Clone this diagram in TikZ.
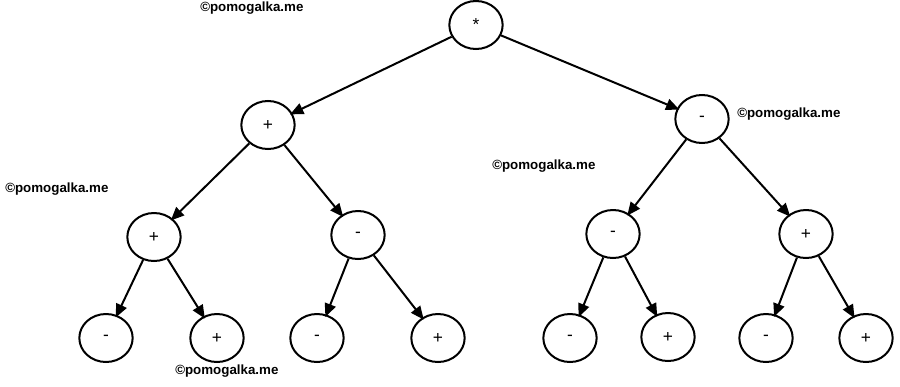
\documentclass[tikz,border=0pt]{standalone}
\usepackage{fontspec}
\setmainfont{Liberation Sans}
\usetikzlibrary{arrows.meta,shapes.geometric}

\begin{document}
\begin{tikzpicture}[x=0.75pt,y=-0.75pt,
  op/.style={draw, ellipse, line width=1.5pt, inner sep=0pt,
    minimum width=40pt, minimum height=36pt, text depth=-3pt,
    font=\fontsize{13}{15}\selectfont},
  edge/.style={line width=1.5pt, -{Triangle[length=10pt,width=8.5pt]}, shorten >=-2pt},
  wmark/.style={font=\bfseries\fontsize{10}{12}\selectfont, anchor=west, inner sep=0pt}]
\useasboundingbox (0,0) rectangle (900,386);
% root and first level
\node[op] (n1) at (476,25) {*};
\node[op] (n2) at (268,125) {+};
\node[op] (n3) at (702,119) {-};
% second level
\node[op] (n4) at (154,237) {+};
\node[op] (n5) at (358,235) {-};
\node[op] (n6) at (613,234) {-};
\node[op] (n7) at (806,234) {+};
% leaves
\node[op] (n8) at (106,338) {-};
\node[op] (n9) at (217,338) {+};
\node[op] (n10) at (317,338) {-};
\node[op] (n11) at (438,338) {+};
\node[op] (n12) at (570,338) {-};
\node[op] (n13) at (668,337) {+};
\node[op] (n14) at (766,338) {-};
\node[op] (n15) at (866,338) {+};
\foreach \p/\c in {1/2,1/3,2/4,2/5,3/6,3/7,4/8,4/9,5/10,5/11,6/12,6/13,7/14,7/15}
  \draw[edge] (n\p) -- (n\c);
% watermarks
\node[wmark] (w1) at (200,8) {©pomogalka.me};
\node[wmark] (w2) at (737,114) {©pomogalka.me};
\node[wmark] (w3) at (492,166) {©pomogalka.me};
\node[wmark] (w4) at (5,189) {©pomogalka.me};
\node[wmark] (w5) at (175,371) {©pomogalka.me};
\end{tikzpicture}
\end{document}
